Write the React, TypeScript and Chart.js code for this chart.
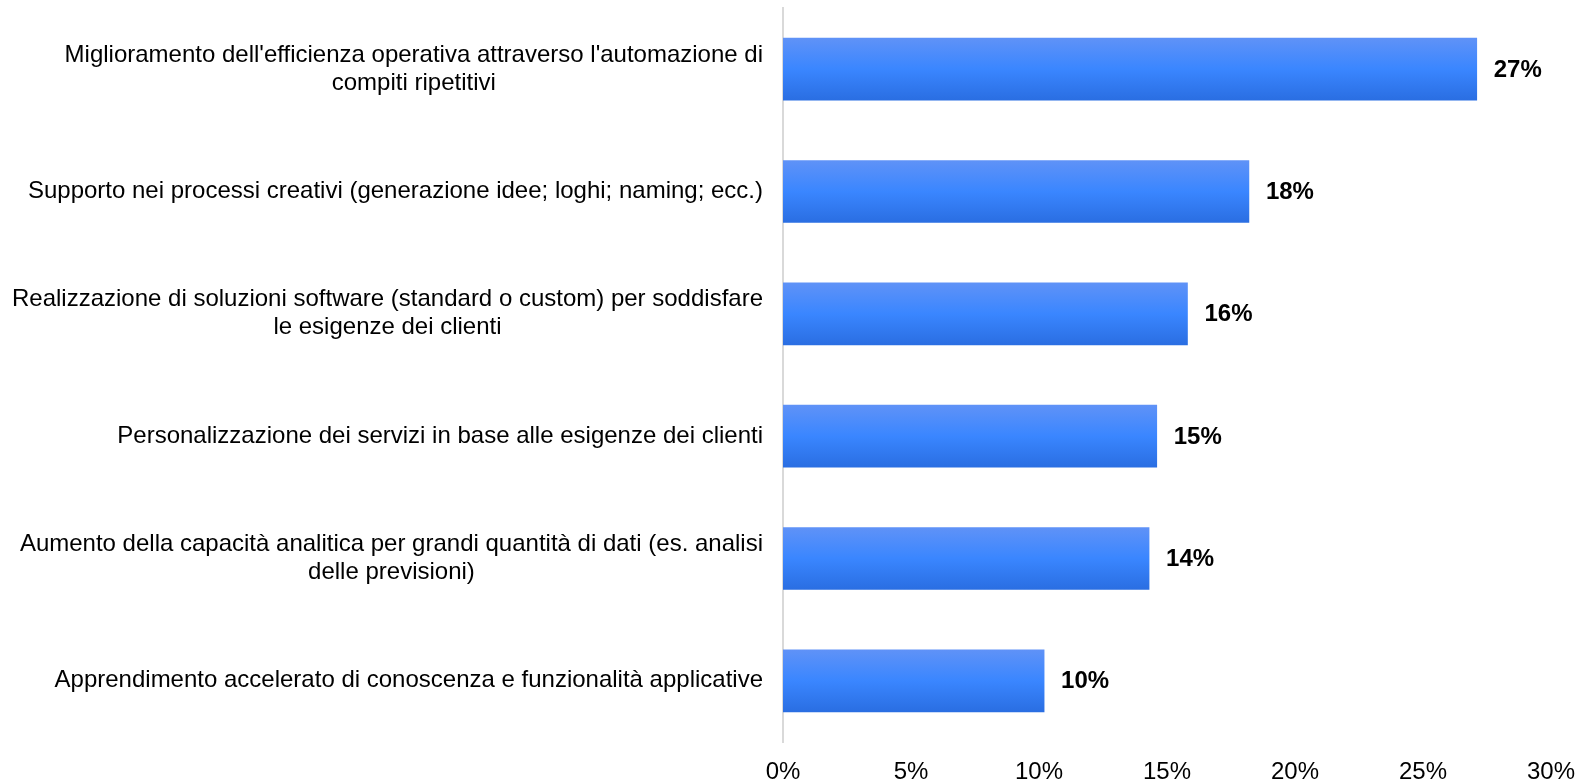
import React, { useEffect, useRef } from "react";
import { Chart, registerables } from "chart.js";

Chart.register(...registerables);

const categories: string[][] = [
  ["Miglioramento dell'efficienza operativa attraverso l'automazione di", "compiti ripetitivi"],
  ["Supporto nei processi creativi (generazione idee; loghi; naming; ecc.)"],
  ["Realizzazione di soluzioni software (standard o custom) per soddisfare", "le esigenze dei clienti"],
  ["Personalizzazione dei servizi in base alle esigenze dei clienti"],
  ["Aumento della capacità analitica per grandi quantità di dati (es. analisi", "delle previsioni)"],
  ["Apprendimento accelerato di conoscenza e funzionalità applicative"],
];
const values: number[] = [27.1, 18.2, 15.8, 14.6, 14.3, 10.2];
const valueLabels: string[] = ["27%", "18%", "16%", "15%", "14%", "10%"];
const xTicks: number[] = [0, 5, 10, 15, 20, 25, 30];

const FONT = "'Liberation Sans', Arial, sans-serif";
const FONT_SIZE = 24;
const BAR_THICK = 62;

export default function App() {
  const ref = useRef<HTMLCanvasElement | null>(null);
  useEffect(() => {
    if (!ref.current) return;
    const yLabelsPlugin = {
      id: "yLabels",
      afterDraw(chart: any) {
        const ctx = chart.ctx;
        const ys = chart.scales.y;
        ctx.save();
        ctx.font = `${FONT_SIZE}px ${FONT}`;
        ctx.fillStyle = "#000";
        ctx.textBaseline = "middle";
        ctx.textAlign = "center";
        const right = chart.chartArea.left - 20;
        categories.forEach((lines, i) => {
          const cy = ys.getPixelForTick(i);
          const widths = lines.map((l) => ctx.measureText(l).width);
          const widest = Math.max(...widths);
          const cx = right - widest / 2;
          const lh = 28;
          lines.forEach((l, j) => {
            const y = cy + (j - (lines.length - 1) / 2) * lh;
            ctx.fillText(l, cx, y);
          });
        });
        ctx.restore();
      },
    };
    const valuePlugin = {
      id: "valueLabels",
      afterDatasetsDraw(chart: any) {
        const ctx = chart.ctx;
        const meta = chart.getDatasetMeta(0);
        ctx.save();
        ctx.font = `bold ${FONT_SIZE}px ${FONT}`;
        ctx.fillStyle = "#000";
        ctx.textBaseline = "middle";
        ctx.textAlign = "left";
        meta.data.forEach((el: any, i: number) => {
          ctx.fillText(valueLabels[i], el.x + 17, el.y + 1);
        });
        ctx.restore();
      },
    };
    const chart = new Chart(ref.current, {
      type: "bar",
      data: {
        labels: categories.map((c) => c.join(" ")),
        datasets: [
          {
            data: values,
            barThickness: BAR_THICK,
            borderWidth: 0,
            backgroundColor: (c: any) => {
              const chart = c.chart;
              const ys = chart.scales && chart.scales.y;
              if (!ys || c.dataIndex === undefined) return "#3a86ff";
              const cy = ys.getPixelForValue(c.dataIndex);
              if (!Number.isFinite(cy)) return "#3a86ff";
              const g = chart.ctx.createLinearGradient(0, cy - BAR_THICK / 2, 0, cy + BAR_THICK / 2);
              g.addColorStop(0, "#5f92f7");
              g.addColorStop(0.5, "#3a86ff");
              g.addColorStop(1, "#2a6ee2");
              return g;
            },
          },
        ],
      },
      options: {
        indexAxis: "y",
        responsive: false,
        animation: false,
        events: [],
        layout: { padding: { top: 8, right: 27, left: 0, bottom: 0 } },
        plugins: { legend: { display: false }, tooltip: { enabled: false } },
        scales: {
          x: {
            min: 0,
            max: 30,
            afterBuildTicks: (s: any) => {
              s.ticks = xTicks.map((v) => ({ value: v }));
            },
            afterFit: (s: any) => {
              s.height = 39;
              s.paddingLeft = 0;
              s.paddingRight = 0;
            },
            grid: { display: false, drawTicks: false },
            border: { display: false },
            ticks: {
              padding: 16,
              color: "#000",
              font: { family: FONT, size: FONT_SIZE },
              callback: (v: any) => `${v}%`,
            },
          },
          y: {
            afterFit: (s: any) => {
              s.width = 783;
            },
            grid: { display: false, drawTicks: false },
            border: { display: true, color: "#d9d9d9", width: 2 },
            ticks: { display: false },
          },
        },
      },
      plugins: [yLabelsPlugin, valuePlugin],
    } as any);
    return () => chart.destroy();
  }, []);
  return (
    <div style={{ position: "absolute", left: 0, top: 0, width: 1578, height: 781, background: "#fff" }}>
      <canvas ref={ref} width={1578} height={781} style={{ display: "block" }} />
    </div>
  );
}
